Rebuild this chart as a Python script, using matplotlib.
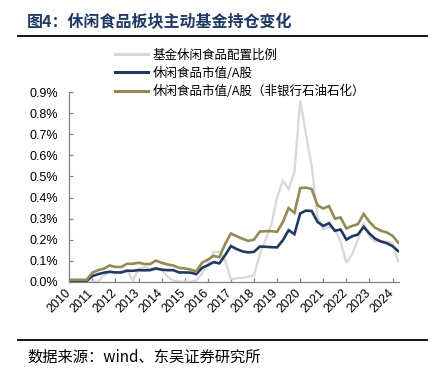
import matplotlib
matplotlib.use("Agg")
import matplotlib.pyplot as plt
from matplotlib.lines import Line2D
import matplotlib.transforms as mtransforms
import numpy as np

plt.rcParams['font.family'] = ['Liberation Sans', 'Noto Sans CJK SC', 'DejaVu Sans']

# Quarterly data, 2010Q1 .. 2024Q2 (values in %)
start_year = 2010
fund_alloc = [0.0, 0.0, 0.0, 0.0,
              0.0, 0.0, 0.03, 0.045,
              0.045, 0.05, 0.055, 0.005,
              0.06, 0.07, 0.06, 0.065,
              0.055, 0.025, 0.005, 0.0,
              0.0, 0.0, 0.005, 0.04,
              0.085, 0.142, 0.142, 0.10,
              0.012, 0.016, 0.018, 0.024,
              0.03, 0.13, 0.20, 0.27,
              0.40, 0.48, 0.44, 0.52,
              0.86, 0.70, 0.55, 0.31,
              0.25, 0.26, 0.25, 0.19,
              0.09, 0.13, 0.20, 0.28,
              0.215, 0.19, 0.195, 0.19,
              0.185, 0.095]
mv_share = [0.004, 0.004, 0.004, 0.004,
            0.027, 0.036, 0.043, 0.047,
            0.044, 0.044, 0.052, 0.052,
            0.055, 0.054, 0.055, 0.063,
            0.057, 0.055, 0.055, 0.044,
            0.044, 0.043, 0.036, 0.066,
            0.078, 0.093, 0.087, 0.126,
            0.169, 0.155, 0.144, 0.139,
            0.142, 0.167, 0.166, 0.164,
            0.163, 0.197, 0.245, 0.226,
            0.324, 0.338, 0.336, 0.284,
            0.265, 0.278, 0.242, 0.248,
            0.200, 0.216, 0.224, 0.261,
            0.229, 0.204, 0.191, 0.183,
            0.169, 0.145]
mv_share_ex = [0.009, 0.009, 0.009, 0.009,
               0.043, 0.055, 0.062, 0.077,
               0.070, 0.070, 0.085, 0.085,
               0.090, 0.084, 0.084, 0.100,
               0.090, 0.082, 0.077, 0.066,
               0.063, 0.058, 0.049, 0.090,
               0.105, 0.123, 0.116, 0.180,
               0.229, 0.216, 0.204, 0.194,
               0.200, 0.238, 0.240, 0.240,
               0.237, 0.284, 0.350, 0.327,
               0.445, 0.447, 0.440, 0.363,
               0.348, 0.359, 0.300, 0.305,
               0.253, 0.265, 0.273, 0.322,
               0.284, 0.256, 0.242, 0.234,
               0.218, 0.185]
year_labels = [str(y) for y in range(2010, 2025)]
series_names = ['基金休闲食品配置比例', '休闲食品市值/A股', '休闲食品市值/A股（非银行石油石化）']

x = start_year + np.arange(len(fund_alloc)) / 4.0

W, H = 434, 370
fig = plt.figure(figsize=(W / 100, H / 100), dpi=100)
ax = fig.add_axes([69.3 / W, 1 - 281.7 / H, (399 - 69.3) / W, (281.7 - 92.3) / H])

cjk = ['Noto Sans CJK SC', 'DejaVu Sans']

l1, = ax.plot(x, fund_alloc, color='#D9D9D9', lw=1.7, solid_joinstyle='miter')
l2, = ax.plot(x, mv_share, color='#1F3A60', lw=1.9, solid_joinstyle='miter')
l3, = ax.plot(x, mv_share_ex, color='#948A54', lw=1.9, solid_joinstyle='miter')

ax.set_xlim(2010, 2024.28)
ax.set_ylim(0, 0.9)
ax.set_yticks(np.arange(0, 0.91, 0.1))
ax.set_yticklabels([f'{v:.1f}%' for v in np.arange(0, 0.91, 0.1)], fontsize=9)
ax.set_xticks(range(2010, 2025))
ax.set_xticklabels(year_labels, fontsize=9, rotation=45, ha='right', rotation_mode='default')

for s in ['top', 'right']:
    ax.spines[s].set_visible(False)
for s in ['left', 'bottom']:
    ax.spines[s].set_color('#808080')
    ax.spines[s].set_linewidth(0.9)
ax.tick_params(axis='both', direction='in', length=3, color='#808080', width=0.9)
ax.tick_params(axis='y', pad=8)
ax.tick_params(axis='x', pad=4)

offset = mtransforms.ScaledTranslation(2.5 / 72, 0, fig.dpi_scale_trans)
for lab in ax.get_xticklabels():
    lab.set_transform(lab.get_transform() + offset)

leg = ax.legend([l1, l2, l3], series_names, loc='upper left',
                bbox_to_anchor=((115 - 69.3) / (399 - 69.3), (281.7 - 48.5) / (281.7 - 92.3)),
                frameon=False, prop={'family': cjk, 'size': 9}, borderpad=0, borderaxespad=0,
                handlelength=2.6, handletextpad=0.4, labelspacing=0.42)
for line in leg.get_lines():
    line.set_linewidth(2.2)

fig.text(27 / W, 1 - 22 / H, '图4：休闲食品板块主动基金持仓变化', family=cjk, fontsize=11.5,
         weight='bold', color='#1F3864', va='center', ha='left')
fig.add_artist(Line2D([18 / W, 427 / W], [1 - 36 / H, 1 - 36 / H], color='black', lw=1.3))
fig.add_artist(Line2D([18 / W, 427 / W], [1 - 340 / H, 1 - 340 / H], color='black', lw=1.3))
fig.text(27 / W, 1 - 357 / H, '数据来源：wind、东吴证券研究所', family=cjk, fontsize=11,
         color='black', va='center', ha='left')

fig.savefig('out.png', dpi=100)
